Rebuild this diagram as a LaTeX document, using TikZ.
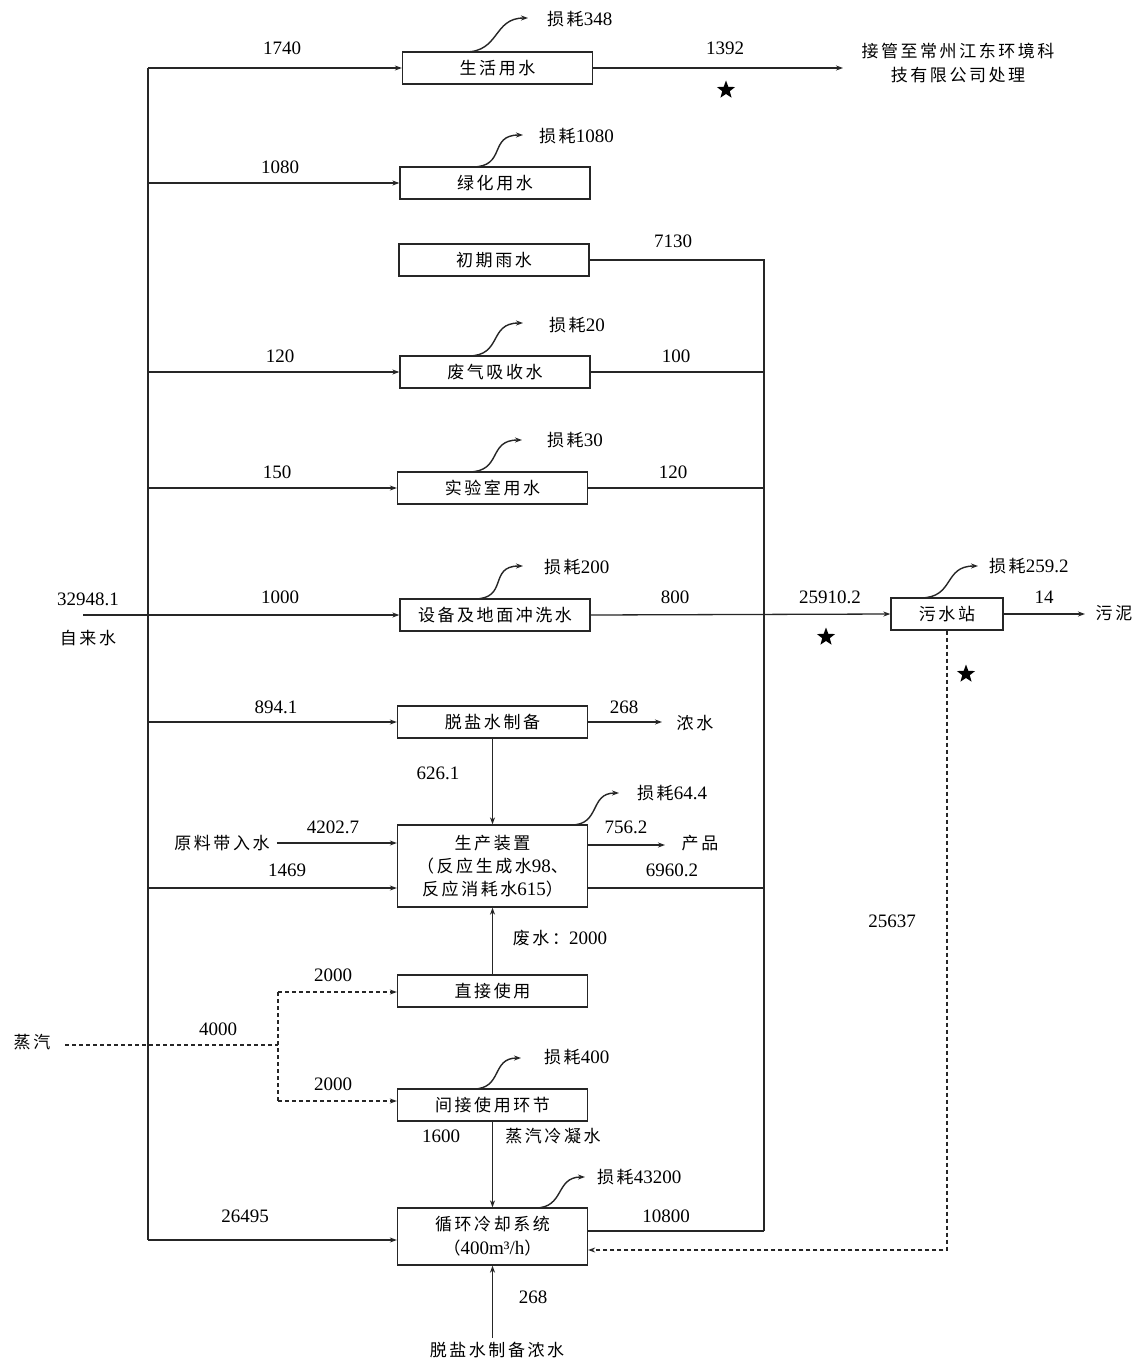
\documentclass[tikz,border=0pt]{standalone}
\usepackage{fontspec}
\setmainfont{Liberation Serif}
\newfontfamily\cjk[LetterSpace=15]{Noto Sans CJK SC}
\newcommand\zh[1]{{\cjk\fontsize{17}{20}\selectfont #1}}
\usetikzlibrary{arrows.meta,shapes.geometric}
\begin{document}
\begin{tikzpicture}[x=1pt,y=-1pt,
  font=\fontsize{19}{22}\selectfont,
  box/.style={draw=black!85, line width=1.3pt, fill=white, inner sep=0pt, minimum width=190pt, minimum height=32pt},
  ln/.style={line width=1.3pt, draw=black!85},
  arr/.style={ln, -{Stealth[length=7pt,width=5pt]}},
  dsh/.style={ln, dash pattern=on 4pt off 3pt},
  loss/.style={line width=1.4pt, draw=black!85, -{Stealth[length=7pt,width=5pt]}},
  lbl/.style={inner sep=1pt},
  llbl/.style={inner sep=1pt, anchor=west},
  starmark/.style={star, star points=5, star point ratio=2.4, fill=black, inner sep=0pt, minimum size=19pt}
]
\fill[white] (0,0) rectangle (1141,1362);
\useasboundingbox (0,0) rectangle (1141,1362);

% boxes
\node[box] (b1) at (497.5,68) {\zh{生活用水}};
\node[box] (b2) at (495,183) {\zh{绿化用水}};
\node[box] (b3) at (494,260) {\zh{初期雨水}};
\node[box] (b4) at (495,372) {\zh{废气吸收水}};
\node[box] (b5) at (492.5,488) {\zh{实验室用水}};
\node[box] (b6) at (495,615) {\zh{设备及地面冲洗水}};
\node[box, minimum width=112pt] (b7) at (947,614) {\zh{污水站}};
\node[box] (b8) at (492.5,722) {\zh{脱盐水制备}};
\node[box, minimum height=82pt, align=center] (b9) at (492.5,866) {\zh{生产装置}\\[1pt]\zh{（反应生成水}98\zh{、}\\[1pt]\zh{反应消耗水}615\zh{）}};
\node[box] (b10) at (492.5,991) {\zh{直接使用}};
\node[box] (b11) at (492.5,1105) {\zh{间接使用环节}};
\node[box, minimum height=57pt, align=center] (b12) at (492.5,1236.5) {\zh{循环冷却系统}\\[2pt]\zh{（}400m³/h\zh{）}};

% text end points
\node[lbl] (src) at (88,638) {\zh{自来水}};
\node[lbl] (srcv) at (88,599) {32948.1};
\node[lbl, align=center] (jg) at (958,63) {\zh{接管至常州江东环境科}\\[2pt]\zh{技有限公司处理}};
\node[lbl] (wn) at (1114,613) {\zh{污泥}};
\node[lbl] (ns) at (695,723) {\zh{浓水}};
\node[lbl] (yl) at (222,843) {\zh{原料带入水}};
\node[lbl] (cp) at (700,843) {\zh{产品}};
\node[lbl] (steam) at (32,1042) {\zh{蒸汽}};
\node[lbl] (tsn) at (497,1350) {\zh{脱盐水制备浓水}};

% coordinates
\coordinate (tT) at (148,68);
\coordinate (tB) at (148,1240);
\coordinate (cT) at (764,260);
\coordinate (cB) at (764,1231);
\coordinate (srcS) at (83,615);
\coordinate (p1469) at (148,888);
\coordinate (out1) at (843,68);
\coordinate (wnE) at (1085,614);
\coordinate (nsE) at (662,722);
\coordinate (cpE) at (665,845);
\coordinate (dC) at (947,1250);
\coordinate (sS) at (65,1045);
\coordinate (sJ) at (278,1045);
\coordinate (sJT) at (278,992);
\coordinate (sJB) at (278,1101);
\coordinate (bS) at (492.5,1338);

% trunk
\draw[ln] (tT) -- (tB);
\draw[arr] (tT) -- (b1.west);
\draw[arr] (tT |- b2.west) -- (b2.west);
\draw[arr] (tT |- b4.west) -- (b4.west);
\draw[arr] (tT |- b5.west) -- (b5.west);
\draw[arr] (srcS) -- (b6.west);
\draw[arr] (tT |- b8.west) -- (b8.west);
\draw[arr] (p1469) -- (b9.west |- p1469);
\draw[arr] (tB) -- (b12.west |- tB);
\draw[arr] ([xshift=6pt]yl.east) -- (b9.west |- yl.east);

% collector
\draw[ln] (b3.east) -- (cT) -- (cB);
\draw[ln] (b4.east) -- (cT |- b4.east);
\draw[ln] (b5.east) -- (cT |- b5.east);
\draw[arr] (b6.east) -- (b7.west);
\draw[ln] (b9.east |- p1469) -- (cT |- p1469);
\draw[ln] (b12.east |- cB) -- (cB);

% outputs
\draw[arr] (b1.east) -- (out1);
\draw[arr] (b7.east) -- (wnE);
\draw[arr] (b8.east) -- (nsE);
\draw[arr] (b9.east |- cpE) -- (cpE);

% verticals
\draw[arr] (b8.south) -- (b9.north);
\draw[arr] (b10.north) -- (b9.south);
\draw[arr] (b11.south) -- (b12.north);
\draw[arr] (bS) -- (b12.south);

% dashed
\draw[dsh, -{Stealth[length=7pt,width=5pt]}] (b7.south) -- (dC) -- (b12.east |- dC);
\draw[dsh] (sS) -- (sJ);
\draw[dsh] (sJT) -- (sJB);
\draw[dsh, -{Stealth[length=7pt,width=5pt]}] (sJT) -- (b10.west |- sJT);
\draw[dsh, -{Stealth[length=7pt,width=5pt]}] (sJB) -- (b11.west |- sJB);

% loss curves
\draw[loss] (465,52) .. controls +(35,0) and +(-35,0) .. (528,18);
\node[llbl] (l1) at (546,19) {\zh{损耗}348};
\draw[loss] (472,167) .. controls +(35,0) and +(-35,0) .. (523,135);
\node[llbl] (l2) at (538,136) {\zh{损耗}1080};
\draw[loss] (468,356) .. controls +(35,0) and +(-35,0) .. (523,323);
\node[llbl] (l4) at (548,325) {\zh{损耗}20};
\draw[loss] (468,472) .. controls +(35,0) and +(-35,0) .. (522,440);
\node[llbl] (l5) at (546,440) {\zh{损耗}30};
\draw[loss] (474,599) .. controls +(35,0) and +(-35,0) .. (523,566);
\node[llbl] (l6) at (543,567) {\zh{损耗}200};
\draw[loss] (920,598) .. controls +(35,0) and +(-35,0) .. (978,566);
\node[llbl] (l7) at (988,566) {\zh{损耗}259.2};
\draw[loss] (571,825) .. controls +(30,0) and +(-30,0) .. (619,793);
\node[llbl] (l9) at (636,793) {\zh{损耗}64.4};
\draw[loss] (473,1089) .. controls +(30,0) and +(-30,0) .. (521,1058);
\node[llbl] (l11) at (543,1057) {\zh{损耗}400};
\draw[loss] (535,1208) .. controls +(30,0) and +(-30,0) .. (585,1177);
\node[llbl] (l12) at (596,1177) {\zh{损耗}43200};

% numeric labels
\node[lbl] (n1740) at (282,48) {1740};
\node[lbl] (n1392) at (725,48) {1392};
\node[lbl] (n1080) at (280,167) {1080};
\node[lbl] (n7130) at (673,241) {7130};
\node[lbl] (n120a) at (280,356) {120};
\node[lbl] (n100) at (676,356) {100};
\node[lbl] (n150) at (277,472) {150};
\node[lbl] (n120b) at (673,472) {120};
\node[lbl] (n1000) at (280,597) {1000};
\node[lbl] (n800) at (675,597) {800};
\node[lbl] (n25910) at (830,597) {25910.2};
\node[lbl] (n14) at (1044,597) {14};
\node[lbl] (n894) at (276,707) {894.1};
\node[lbl] (n268a) at (624,707) {268};
\node[lbl] (n626) at (438,773) {626.1};
\node[lbl] (n4202) at (333,827) {4202.7};
\node[lbl] (n1469) at (287,870) {1469};
\node[lbl] (n756) at (626,827) {756.2};
\node[lbl] (n6960) at (672,870) {6960.2};
\node[lbl] (nfs) at (560,938) {\zh{废水：}2000};
\node[lbl] (n25637) at (892,921) {25637};
\node[lbl] (n2000a) at (333,975) {2000};
\node[lbl] (n4000) at (218,1029) {4000};
\node[lbl] (n2000b) at (333,1084) {2000};
\node[lbl] (n1600) at (441,1136) {1600};
\node[lbl] (nlns) at (553,1136) {\zh{蒸汽冷凝水}};
\node[lbl] (n26495) at (245,1216) {26495};
\node[lbl] (n10800) at (666,1216) {10800};
\node[lbl] (n268b) at (533,1297) {268};

% stars
\node[starmark] (s1) at (726,90) {};
\node[starmark] (s2) at (826,637) {};
\node[starmark] (s3) at (966,674) {};
\end{tikzpicture}
\end{document}
